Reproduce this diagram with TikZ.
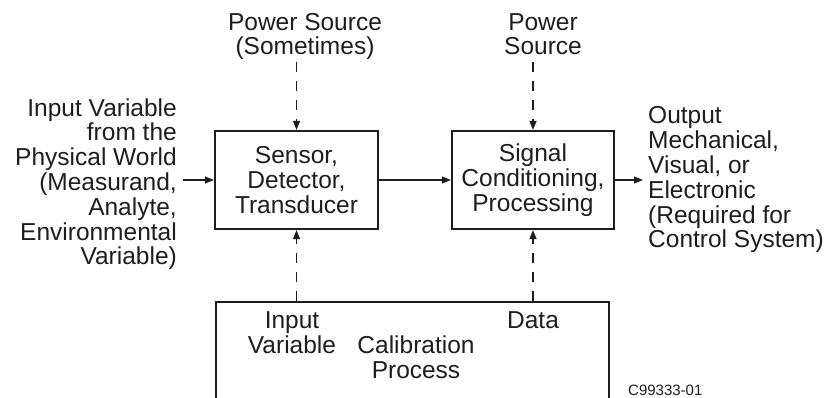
\documentclass[tikz,border=0pt]{standalone}
\usepackage{fontspec}
\setmainfont{Liberation Sans}
\usetikzlibrary{arrows.meta}
\newcommand\dfont{\fontsize{24.5}{24.8}\selectfont}
\definecolor{ink}{HTML}{1E1E1E}
\begin{document}
\begin{tikzpicture}[x=1pt,y=-1pt,
  every node/.style={text=ink},
  blk/.style={draw=ink, line width=2.2pt, minimum width=163pt, minimum height=98pt, inner sep=0pt, align=center, font=\dfont},
  lbl/.style={inner sep=0pt, font=\dfont},
  arr/.style={draw=ink, line width=1.1pt, -{Triangle[length=9pt,width=7pt]}},
  dsh/.style={arr, dash pattern=on 10pt off 9pt}]
\clip (0,0) rectangle (828,398);
\fill[white] (0,0) rectangle (828,398);
% blocks
\node[blk] (sens) at (296.5,180) {Sensor,\\Detector,\\Transducer};
\node[blk, minimum width=162pt] (sig) at (533,180) {Signal\\Conditioning,\\Processing};
\node[draw=ink, line width=2.2pt, minimum width=393pt, minimum height=140pt, inner sep=0pt, anchor=north west] (cal) at (215,301) {};
% left input
\node[lbl, anchor=base east, align=right] (inp) at (177,265) {Input Variable\\from the\\Physical World\\(Measurand,\\Analyte,\\Environmental\\Variable)};
\coordinate (inS) at (183,180);
\draw[arr] (inS) -- (sens);
\draw[arr] (sens) -- (sig);
\coordinate (outE) at (643,180);
\draw[arr] (sig) -- (outE);
\node[lbl, anchor=base west, align=left] (out) at (648,248) {Output\\Mechanical,\\Visual, or\\Electronic\\(Required for\\Control System)};
% power sources
\node[lbl, align=center, anchor=base] (ps1) at (305,55) {Power Source\\(Sometimes)};
\node[lbl, align=center, anchor=base] (ps2) at (543,55) {Power\\Source};
\coordinate (d1) at (296.5,62);
\coordinate (d2) at (533,62);
\draw[dsh] (d1) -- (sens.north);
\draw[dsh] (d2) -- (sig.north);
% calibration
\draw[dsh] (cal.north -| sens) -- (sens.south);
\draw[dsh] (cal.north -| sig) -- (sig.south);
\node[lbl, align=center, anchor=base] (iv) at (292,353) {Input\\Variable};
\node[lbl, align=center, anchor=base] (cp) at (416,378) {Calibration\\Process};
\node[lbl, anchor=base] (dt) at (533,328) {Data};
\node[inner sep=0pt, font=\fontsize{15}{18}\selectfont, anchor=base west] (code) at (628,395) {C99333-01};
\end{tikzpicture}
\end{document}
